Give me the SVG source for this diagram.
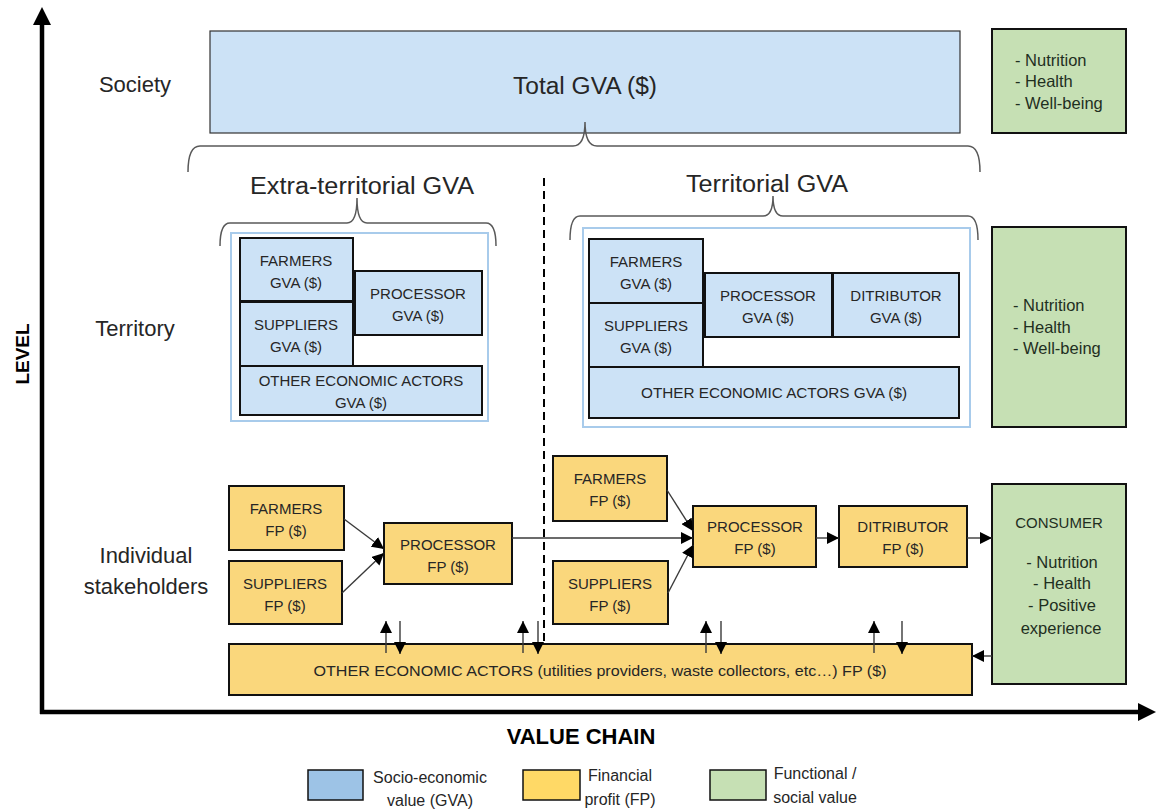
<svg xmlns="http://www.w3.org/2000/svg" width="1156" height="812" viewBox="0 0 1156 812">
<defs>
<style>
text{font-family:"Liberation Sans",Arial,sans-serif;fill:#262626}
.lvl{font-size:22px;text-anchor:middle}
.big{font-size:23px;text-anchor:middle}
.bx{font-size:15px;text-anchor:middle}
.gt{font-size:16.5px;fill:#1f2f1f}
.gtc{font-size:16.5px;fill:#1f2f1f;text-anchor:middle}
.lg{font-size:16px;text-anchor:middle}
.blue{fill:#cce2f6;stroke:#111;stroke-width:2}
.yel{fill:#fad77c;stroke:#111;stroke-width:2}
.grn{fill:#c6e0b4;stroke:#111;stroke-width:2}
.cont{fill:#fff;stroke:#a8cbeb;stroke-width:2}
.brace{fill:none;stroke:#595959;stroke-width:1.5}
.con{fill:none;stroke:#3a3a3a;stroke-width:1.4}
.axis{fill:none;stroke:#000;stroke-width:4.5}
</style>
<marker id="ah" markerUnits="userSpaceOnUse" markerWidth="13" markerHeight="12" refX="12" refY="6" orient="auto">
<path d="M0,0 L12,6 L0,12 z" fill="#000"/>
</marker>
</defs>

<g id="axes">
<line class="axis" x1="42" y1="714" x2="42" y2="22"/>
<polygon points="33,25 42,7 51,25" fill="#000"/>
<line class="axis" x1="40" y1="712" x2="1140" y2="712"/>
<polygon points="1138,703 1156,712 1138,721" fill="#000"/>
<text x="22" y="354" transform="rotate(-90 22 354)" style="font-size:19px;font-weight:bold;text-anchor:middle;fill:#000" dy="7">LEVEL</text>
<text x="581" y="744" style="font-size:22px;font-weight:bold;text-anchor:middle;fill:#000">VALUE CHAIN</text>
</g>

<g id="level-labels">
<text class="lvl" x="135" y="92">Society</text>
<text class="lvl" x="135" y="336">Territory</text>
<text class="lvl" x="146" y="563">Individual</text>
<text class="lvl" x="146" y="594">stakeholders</text>
</g>

<g id="total-gva">
<rect x="210" y="31" width="750" height="102" fill="#cce2f6" stroke="#333" stroke-width="1.2"/>
<text class="big" x="585" y="94" textLength="144" lengthAdjust="spacingAndGlyphs">Total GVA ($)</text>
</g>

<g id="braces">
<path class="brace" d="M188,172 Q188,146 200,146 L573,146 Q585,146 585,122 Q585,146 597,146 L968,146 Q980,146 980,172"/>
<path class="brace" d="M220,246 Q220,223 230,223 L347,223 Q357,223 357,198 Q357,223 367,223 L486,223 Q496,223 496,246"/>
<path class="brace" d="M570,240 Q570,216 580,216 L763,216 Q773,216 773,196 Q773,216 783,216 L968,216 Q978,216 978,240"/>
<text class="big" x="362" y="194" textLength="224" lengthAdjust="spacingAndGlyphs">Extra-territorial GVA</text>
<text class="big" x="767" y="192" textLength="162" lengthAdjust="spacingAndGlyphs">Territorial GVA</text>
</g>

<line id="divider" x1="544" y1="178" x2="544" y2="650" stroke="#000" stroke-width="2" stroke-dasharray="8,5"/>

<g id="extra-territorial">
<rect class="cont" x="231" y="233" width="257" height="188"/>
<g id="et-farmers"><rect class="blue" x="240" y="238" width="113" height="63"/><text class="bx" x="296" y="266">FARMERS</text><text class="bx" x="296" y="288">GVA ($)</text></g>
<g id="et-suppliers"><rect class="blue" x="240" y="302" width="113" height="64"/><text class="bx" x="296" y="330">SUPPLIERS</text><text class="bx" x="296" y="352">GVA ($)</text></g>
<g id="et-processor"><rect class="blue" x="355" y="271" width="127" height="64"/><text class="bx" x="418" y="299">PROCESSOR</text><text class="bx" x="418" y="321">GVA ($)</text></g>
<g id="et-other"><rect class="blue" x="240" y="366" width="242" height="49"/><text class="bx" x="361" y="386">OTHER ECONOMIC ACTORS</text><text class="bx" x="361" y="408">GVA ($)</text></g>
</g>

<g id="territorial">
<rect class="cont" x="583" y="228" width="387" height="199"/>
<g id="t-farmers"><rect class="blue" x="589" y="239" width="114" height="64"/><text class="bx" x="646" y="267">FARMERS</text><text class="bx" x="646" y="289">GVA ($)</text></g>
<g id="t-suppliers"><rect class="blue" x="589" y="303" width="114" height="64"/><text class="bx" x="646" y="331">SUPPLIERS</text><text class="bx" x="646" y="353">GVA ($)</text></g>
<g id="t-processor"><rect class="blue" x="705" y="273" width="127" height="64"/><text class="bx" x="768" y="301">PROCESSOR</text><text class="bx" x="768" y="323">GVA ($)</text></g>
<g id="t-distributor"><rect class="blue" x="833" y="273" width="126" height="64"/><text class="bx" x="896" y="301">DITRIBUTOR</text><text class="bx" x="896" y="323">GVA ($)</text></g>
<g id="t-other"><rect class="blue" x="589" y="367" width="370" height="51"/><text class="bx" x="774" y="398" textLength="266" lengthAdjust="spacingAndGlyphs">OTHER ECONOMIC ACTORS GVA ($)</text></g>
</g>

<g id="green-society"><rect class="grn" x="992" y="29" width="134" height="104"/>
<text class="gt" x="1015" y="66">- Nutrition</text><text class="gt" x="1015" y="87">- Health</text><text class="gt" x="1015" y="109">- Well-being</text></g>
<g id="green-territory"><rect class="grn" x="992" y="227" width="134" height="200"/>
<text class="gt" x="1013" y="311">- Nutrition</text><text class="gt" x="1013" y="333">- Health</text><text class="gt" x="1013" y="354">- Well-being</text></g>
<g id="consumer"><rect class="grn" x="992" y="484" width="134" height="200"/>
<text class="gtc" x="1059" y="528" style="font-size:15px">CONSUMER</text>
<text class="gtc" x="1062" y="568">- Nutrition</text><text class="gtc" x="1062" y="589">- Health</text><text class="gtc" x="1062" y="611">- Positive</text><text class="gtc" x="1061" y="634">experience</text></g>

<g id="fp-farmers-left"><rect class="yel" x="229" y="486" width="115" height="64"/><text class="bx" x="286" y="514">FARMERS</text><text class="bx" x="286" y="536">FP ($)</text></g>
<g id="fp-suppliers-left"><rect class="yel" x="229" y="561" width="113" height="63"/><text class="bx" x="285" y="589">SUPPLIERS</text><text class="bx" x="285" y="611">FP ($)</text></g>
<g id="fp-processor-left"><rect class="yel" x="384" y="523" width="128" height="61"/><text class="bx" x="448" y="550">PROCESSOR</text><text class="bx" x="448" y="572">FP ($)</text></g>
<g id="fp-farmers-right"><rect class="yel" x="553" y="456" width="114" height="65"/><text class="bx" x="610" y="484">FARMERS</text><text class="bx" x="610" y="506">FP ($)</text></g>
<g id="fp-suppliers-right"><rect class="yel" x="553" y="561" width="115" height="63"/><text class="bx" x="610" y="589">SUPPLIERS</text><text class="bx" x="610" y="611">FP ($)</text></g>
<g id="fp-processor-right"><rect class="yel" x="693" y="506" width="123" height="61"/><text class="bx" x="755" y="532">PROCESSOR</text><text class="bx" x="755" y="554">FP ($)</text></g>
<g id="fp-distributor"><rect class="yel" x="839" y="506" width="128" height="61"/><text class="bx" x="903" y="532">DITRIBUTOR</text><text class="bx" x="903" y="554">FP ($)</text></g>
<g id="fp-other"><rect class="yel" x="229" y="644" width="743" height="51"/><text class="bx" x="600" y="676" textLength="573" lengthAdjust="spacingAndGlyphs">OTHER ECONOMIC ACTORS  (utilities providers, waste collectors, etc…) FP ($)</text></g>

<g id="connectors">
<line class="con" x1="344" y1="519" x2="384" y2="549" marker-end="url(#ah)"/>
<line class="con" x1="342" y1="593" x2="384" y2="553" marker-end="url(#ah)"/>
<line class="con" x1="512" y1="538" x2="693" y2="538" marker-end="url(#ah)"/>
<line class="con" x1="667" y1="490" x2="693" y2="531" marker-end="url(#ah)"/>
<line class="con" x1="668" y1="593" x2="693" y2="545" marker-end="url(#ah)"/>
<line class="con" x1="816" y1="538" x2="839" y2="538" marker-end="url(#ah)"/>
<line class="con" x1="967" y1="538" x2="992" y2="538" marker-end="url(#ah)"/>
<line class="con" x1="992" y1="656" x2="972" y2="656" marker-end="url(#ah)"/>
<line class="con" x1="386" y1="653" x2="386" y2="621" marker-end="url(#ah)"/>
<line class="con" x1="400" y1="621" x2="400" y2="654" marker-end="url(#ah)"/>
<line class="con" x1="523" y1="653" x2="523" y2="621" marker-end="url(#ah)"/>
<line class="con" x1="538" y1="621" x2="538" y2="654" marker-end="url(#ah)"/>
<line class="con" x1="706" y1="653" x2="706" y2="621" marker-end="url(#ah)"/>
<line class="con" x1="721" y1="621" x2="721" y2="654" marker-end="url(#ah)"/>
<line class="con" x1="874" y1="653" x2="874" y2="621" marker-end="url(#ah)"/>
<line class="con" x1="902" y1="621" x2="902" y2="654" marker-end="url(#ah)"/>
</g>

<g id="legend">
<rect x="308" y="770" width="55" height="30" fill="#9dc3e6" stroke="#111" stroke-width="1.5"/>
<text class="lg" x="430" y="783">Socio-economic</text><text class="lg" x="430" y="806">value (GVA)</text>
<rect x="523" y="770" width="57" height="30" fill="#ffd966" stroke="#111" stroke-width="1.5"/>
<text class="lg" x="620" y="781">Financial</text><text class="lg" x="620" y="805">profit (FP)</text>
<rect x="710" y="770" width="56" height="30" fill="#c6e0b4" stroke="#111" stroke-width="1.5"/>
<text class="lg" x="815" y="779">Functional /</text><text class="lg" x="815" y="803">social value</text>
</g>
</svg>
